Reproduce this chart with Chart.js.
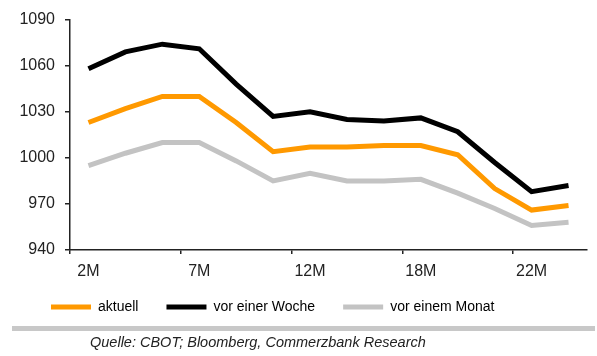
<!DOCTYPE html>
<html>
<head>
<meta charset="utf-8">
<script src="https://cdn.jsdelivr.net/npm/chart.js@4/dist/chart.umd.min.js"></script>
<style>
  html, body { margin: 0; padding: 0; background: #fff; width: 597px; height: 356px; overflow: hidden; }
  #wrap { position: absolute; left: 0; top: 0; width: 597px; height: 336px; }
  #sep { position: absolute; left: 12px; top: 326px; width: 583px; height: 5px; background: #c8c8c8; }
  #src { position: absolute; left: 90px; top: 334px; font: italic 14.5px "Liberation Sans", Arial, sans-serif; color: #222; white-space: nowrap; }
</style>
</head>
<body>
<div id="wrap"><canvas id="c" width="597" height="336"></canvas></div>
<div id="sep"></div>
<div id="src">Quelle: CBOT; Bloomberg, Commerzbank Research</div>
<script>
const categories = ['2M','','','7M','','','12M','','','18M','','','22M',''];
const aktuell      = [1023,1032,1040,1040,1023,1004,1007,1007,1008,1008,1002,980,966,969];
const vorWoche     = [1058,1069,1074,1071,1048,1027,1030,1025,1024,1026,1017,997,978,982];
const vorMonat     = [995,1003,1010,1010,998,985,990,985,985,986,977,967,956,958];
const seriesNames  = ['aktuell','vor einer Woche','vor einem Monat'];
const seriesColors = ['#ff9900','#000000','#c3c3c3'];
const yTicks = [940, 970, 1000, 1030, 1060, 1090];

const font = "'Liberation Sans', Arial, sans-serif";
const axisColor = '#222';

const legendPlace = {
  id: 'legendPlace',
  afterLayout(chart) {
    const l = chart.legend;
    const dx = 23, dy = -12;
    l.left += dx; l.right += dx; l.top += dy; l.bottom += dy;
  }
};

new Chart(document.getElementById('c'), {
  type: 'line',
  data: {
    labels: categories,
    datasets: [aktuell, vorWoche, vorMonat].map((d, i) => ({
      label: seriesNames[i],
      data: d,
      borderColor: seriesColors[i],
      backgroundColor: seriesColors[i],
      borderWidth: 5,
      pointRadius: 0,
      tension: 0,
      fill: false
    }))
  },
  plugins: [legendPlace],
  options: {
    responsive: false,
    devicePixelRatio: 1,
    animation: false,
    layout: { padding: { left: 0, top: 17, right: 10, bottom: 0 } },
    plugins: {
      tooltip: { enabled: false },
      legend: {
        position: 'bottom',
        align: 'start',
        labels: {
          boxWidth: 40,
          boxHeight: 5,
          padding: 28,
          color: '#222',
          font: { family: font, size: 14 },
          generateLabels: (chart) => chart.data.datasets.map((ds, i) => ({
            text: ds.label,
            fillStyle: ds.borderColor,
            strokeStyle: ds.borderColor,
            lineWidth: 0,
            hidden: false,
            datasetIndex: i
          }))
        }
      }
    },
    scales: {
      x: {
        type: 'category',
        offset: true,
        afterFit: (s) => { s.height = 34; },
        border: { display: true, color: axisColor, width: 1.5 },
        grid: {
          offset: true,
          drawOnChartArea: false,
          drawTicks: true,
          tickLength: 4,
          lineWidth: 1.5,
          color: (ctx) => (ctx.index !== undefined && ctx.index % 3 === 0) ? axisColor : 'rgba(0,0,0,0)'
        },
        ticks: {
          autoSkip: false,
          maxRotation: 0,
          padding: 8,
          color: '#222',
          font: { family: font, size: 16 }
        }
      },
      y: {
        min: yTicks[0],
        max: yTicks[yTicks.length - 1],
        afterFit: (s) => { s.width = 70; },
        afterBuildTicks: (s) => { s.ticks = yTicks.map(v => ({ value: v })); },
        border: { display: true, color: axisColor, width: 1.5 },
        grid: {
          drawOnChartArea: false,
          drawTicks: true,
          tickLength: 5,
          lineWidth: 1.5,
          color: axisColor
        },
        ticks: {
          padding: 10,
          color: '#222',
          font: { family: font, size: 16 },
          callback: (v) => String(v)
        }
      }
    }
  }
});
</script>
</body>
</html>
